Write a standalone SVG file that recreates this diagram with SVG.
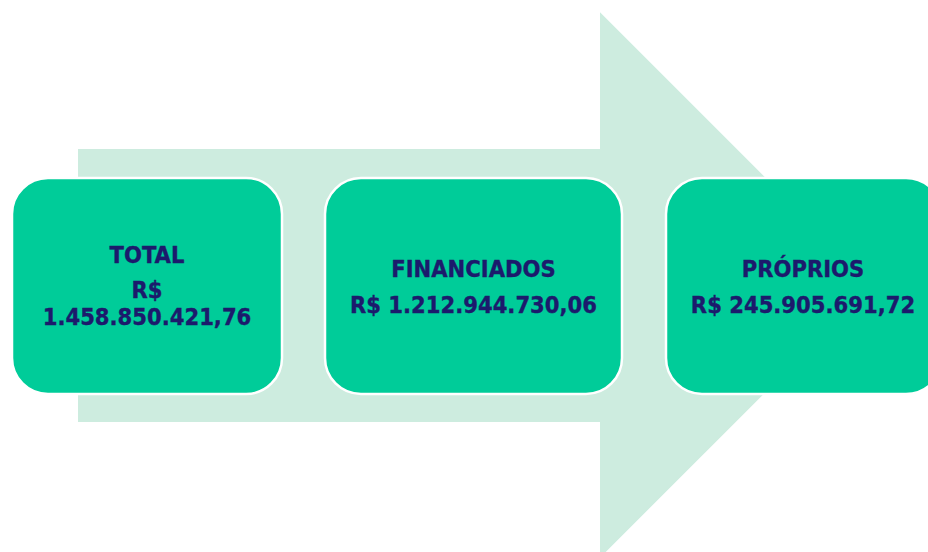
<svg xmlns="http://www.w3.org/2000/svg" width="928" height="552" viewBox="0 0 928 552">
<style>
.box{fill:#00CC99;stroke:#FFFFFF;stroke-width:2.5}
.t{font-family:"DejaVu Sans Condensed","DejaVu Sans",Verdana,sans-serif;font-stretch:condensed;font-weight:bold;font-size:23.5px;fill:#1C1A6C;stroke:#1C1A6C;stroke-width:0.35;text-anchor:middle}
</style>
<rect width="928" height="552" fill="#FFFFFF"/>
<g id="arrow">
<path d="M78,149 L600,149 L600,12.3 L872.7,285 L600,557.7 L600,422 L78,422 Z" fill="#CDECDF"/>
</g>
<g id="connectors"></g>
<g id="total">
<rect class="box" x="12" y="178" width="270" height="216" rx="36" ry="36"/>
<text class="t" x="147" y="263">TOTAL</text>
<text class="t" x="147" y="297.5">R$</text>
<text class="t" x="147" y="324.5">1.458.850.421,76</text>
</g>
<g id="financiados">
<rect class="box" x="325" y="178" width="297" height="216" rx="36" ry="36"/>
<text class="t" x="473.5" y="277">FINANCIADOS</text>
<text class="t" x="473.5" y="313">R$ 1.212.944.730,06</text>
</g>
<g id="proprios">
<rect class="box" x="666" y="178" width="276" height="216" rx="36" ry="36"/>
<text class="t" x="803" y="276.7">PRÓPRIOS</text>
<text class="t" x="803" y="312.7">R$ 245.905.691,72</text>
</g>
</svg>
